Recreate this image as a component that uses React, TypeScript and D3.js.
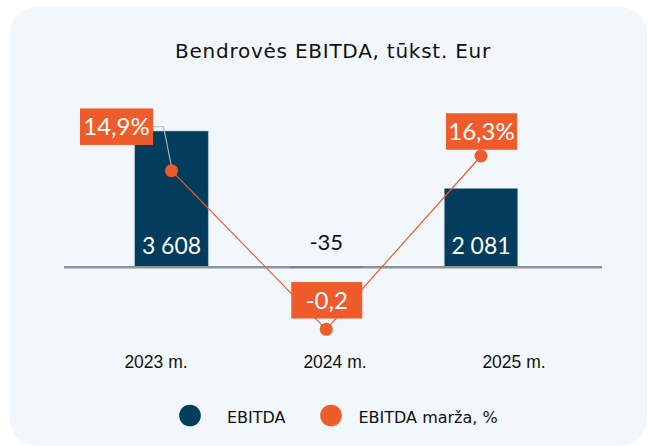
import React, { useEffect, useRef } from 'react';
import * as d3 from 'd3';

// chart data
const years = ['2023 m.', '2024 m.', '2025 m.'];
const ebitda = [3608, -35, 2081];
const ebitdaLabels = ['3 608', '-35', '2 081'];
const marza = [14.9, -0.2, 16.3];
const marzaLabels = ['14,9%', '-0,2', '16,3%'];
const legendNames = ['EBITDA', 'EBITDA marža, %'];

const NAVY = '#023d5e';
const ORANGE = '#ef5b2b';
const FONT = 'Lato, sans-serif';
const TITLE_FONT = '"DejaVu Sans", sans-serif';

const App = () => {
  const svgRef = useRef<SVGSVGElement>(null);

  useEffect(() => {
    const width = 648;
    const height = 446;

    d3.select(svgRef.current).selectAll('*').remove();

    const svg = d3.select(svgRef.current)
      .attr('width', width)
      .attr('height', height);

    // background card
    svg.append('rect')
      .attr('x', 10)
      .attr('y', 7)
      .attr('width', 637)
      .attr('height', 438.5)
      .attr('rx', 26)
      .attr('fill', '#f2f7fb');

    // title
    svg.append('text')
      .attr('x', 333)
      .attr('y', 58)
      .attr('text-anchor', 'middle')
      .style('font-family', TITLE_FONT)
      .style('font-size', '20px')
      .style('letter-spacing', '0.75px')
      .attr('fill', '#111')
      .text('Bendrovės EBITDA, tūkst. Eur');

    // scales
    const x = d3.scalePoint<string>()
      .domain(years)
      .range([171.5, 481]);
    const barW = 73.5;

    const y = d3.scaleLinear()
      .domain([0, 3608])
      .range([266.5, 131]);

    const yM = d3.scaleLinear()
      .domain([-0.2, 16.3])
      .range([329.3, 156]);

    // category labels (placed a little off the bar centres, as in the source)
    const xLab = d3.scalePoint<string>()
      .domain(years)
      .range([156, 514]);

    // bars
    svg.selectAll('.bar')
      .data(ebitda)
      .enter().append('rect')
      .attr('class', 'bar')
      .attr('x', (d, i) => x(years[i])! - barW / 2)
      .attr('width', barW)
      .attr('y', d => Math.min(y(d), y(0)))
      .attr('height', d => Math.abs(y(d) - y(0)))
      .attr('fill', NAVY)
      .attr('stroke', '#9fb3c4')
      .attr('stroke-width', 0.6);

    // zero line
    svg.append('line')
      .attr('x1', 64)
      .attr('x2', 602)
      .attr('y1', y(0) + 0.8)
      .attr('y2', y(0) + 0.8)
      .attr('stroke', '#8b949b')
      .attr('stroke-width', 2.6);

    // small negative bar stays visible on the axis
    svg.append('rect')
      .attr('x', x(years[1])! - barW / 2)
      .attr('width', barW)
      .attr('y', y(0))
      .attr('height', Math.max(1.2, y(ebitda[1]) - y(0)))
      .attr('fill', '#6a7f90');

    // bar value labels
    svg.selectAll('.bar-label')
      .data(ebitda)
      .enter().append('text')
      .attr('class', 'bar-label')
      .attr('x', (d, i) => x(years[i])!)
      .attr('y', d => (d > 0 ? 254 : 250))
      .attr('text-anchor', 'middle')
      .style('font-family', FONT)
      .style('font-size', d => (d > 0 ? '23px' : '22px'))
      .attr('fill', d => (d > 0 ? '#ffffff' : '#111'))
      .text((d, i) => ebitdaLabels[i]);

    // margin line
    const line = d3.line<number>()
      .x((d, i) => x(years[i])!)
      .y(d => yM(d));

    svg.append('path')
      .datum(marza)
      .attr('fill', 'none')
      .attr('stroke', ORANGE)
      .attr('stroke-width', 1.2)
      .attr('d', line);

    // leader line for the first label
    const p0x = x(years[0])!;
    const p0y = yM(marza[0]);
    svg.append('polyline')
      .attr('points', `${p0x - 56 + 36},${p0y - 44} ${p0x - 8},${p0y - 44} ${p0x},${p0y - 4}`)
      .attr('fill', 'none')
      .attr('stroke', '#b3b8bd')
      .attr('stroke-width', 1.1);

    svg.selectAll('.dot')
      .data(marza)
      .enter().append('circle')
      .attr('class', 'dot')
      .attr('cx', (d, i) => x(years[i])!)
      .attr('cy', d => yM(d))
      .attr('r', 6.5)
      .attr('fill', ORANGE);

    // margin labels
    const offsets = [
      { dx: -56, dy: -44 },
      { dx: 0.5, dy: -29 },
      { dx: 0.5, dy: -24.5 }
    ];
    const boxW = 71;
    const boxH = 36.5;

    const labels = svg.selectAll('.m-label')
      .data(marza)
      .enter().append('g')
      .attr('class', 'm-label')
      .attr('transform', (d, i) =>
        `translate(${x(years[i])! + offsets[i].dx},${yM(d) + offsets[i].dy})`);

    labels.append('rect')
      .attr('x', -boxW / 2)
      .attr('y', -boxH / 2)
      .attr('width', (d, i) => (i === 0 ? boxW + 2 : boxW))
      .attr('height', boxH)
      .attr('fill', ORANGE);

    labels.append('text')
      .attr('x', (d, i) => (i === 0 ? 1 : 0))
      .attr('y', 8.5)
      .attr('text-anchor', 'middle')
      .style('font-family', FONT)
      .style('font-size', '24px')
      .attr('fill', '#fff')
      .text((d, i) => marzaLabels[i]);

    // category axis labels
    svg.selectAll('.cat')
      .data(years)
      .enter().append('text')
      .attr('class', 'cat')
      .attr('x', d => xLab(d)!)
      .attr('y', 368)
      .attr('text-anchor', 'middle')
      .style('font-family', '"Liberation Sans", Arial, sans-serif')
      .style('font-size', '17.5px')
      .attr('fill', '#111')
      .text(d => d);

    // legend
    const legendX = [190, 331];
    const legendColors = [NAVY, ORANGE];
    const legend = svg.append('g');
    const items = legend.selectAll('.legend-item')
      .data(legendNames)
      .enter().append('g')
      .attr('class', 'legend-item')
      .attr('transform', (d, i) => `translate(${legendX[i]}, 415.5)`);

    items.append('circle')
      .attr('r', 10.8)
      .attr('fill', (d, i) => legendColors[i]);

    items.append('text')
      .attr('x', (d, i) => (i === 0 ? 37 : 27.5))
      .attr('y', 7)
      .style('font-family', TITLE_FONT)
      .style('font-size', '16px')
      .attr('fill', '#111')
      .text(d => d);
  }, []);

  return (
    <div style={{ position: 'absolute', left: 0, top: 0, width: 648, height: 446, background: '#fff', overflow: 'hidden' }}>
      <svg ref={svgRef} style={{ display: 'block' }}></svg>
    </div>
  );
};

export default App;
